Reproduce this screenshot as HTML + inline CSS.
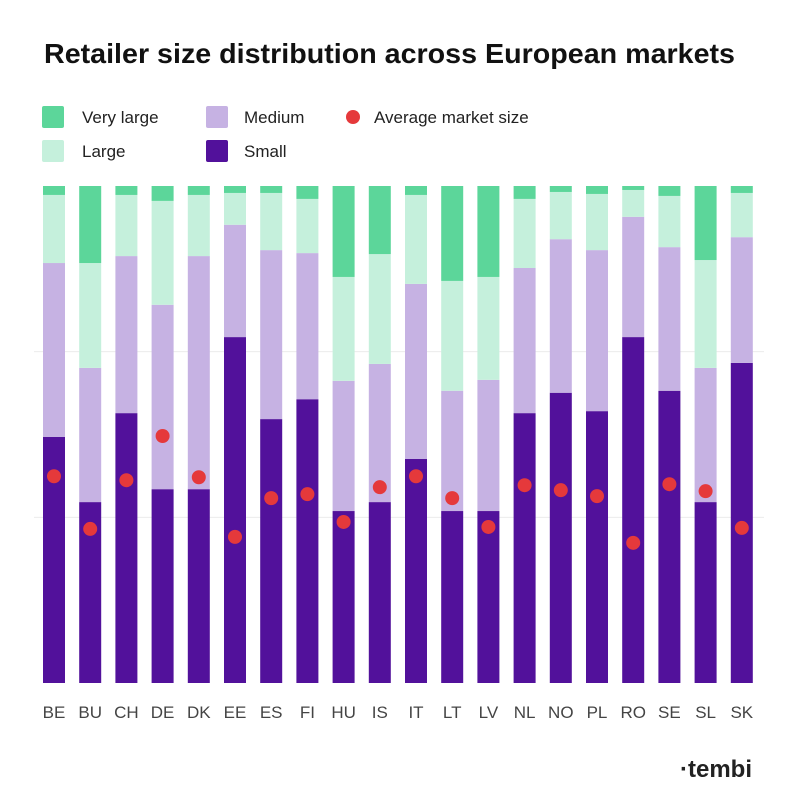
<!DOCTYPE html>
<html><head><meta charset="utf-8"><style>
body{margin:0;background:#fff;font-family:"Liberation Sans",sans-serif;}
#wrap{position:relative;width:800px;height:800px;overflow:hidden;}
</style></head><body>
<div id="wrap">
<svg id="svg" width="800" height="800" xmlns="http://www.w3.org/2000/svg">
<text x="44" y="63" font-size="28" font-weight="bold" fill="#111" textLength="691" lengthAdjust="spacingAndGlyphs">Retailer size distribution across European markets</text>
<g>
<rect x="42" y="106" width="22" height="22" rx="2" fill="#5cd69a"/>
<text x="82" y="123" font-size="17" fill="#222">Very large</text>
<rect x="42" y="140" width="22" height="22" rx="2" fill="#c5f0dc"/>
<text x="82" y="157" font-size="17" fill="#222">Large</text>
<rect x="206" y="106" width="22" height="22" rx="2" fill="#c6b2e3"/>
<text x="244" y="123" font-size="17" fill="#222">Medium</text>
<rect x="206" y="140" width="22" height="22" rx="2" fill="#52119b"/>
<text x="244" y="157" font-size="17" fill="#222">Small</text>
<circle cx="353" cy="117" r="7" fill="#e5393b"/>
<text x="374" y="123" font-size="17" fill="#222">Average market size</text>
</g>
<g id="grid"></g><g id="bars"></g><g id="dots"></g><g id="labels"></g>
<text x="752" y="777" font-size="24" font-weight="bold" fill="#222" text-anchor="end">·tembi</text>
</svg>
</div>
<script>
const categories=["BE","BU","CH","DE","DK","EE","ES","FI","HU","IS","IT","LT","LV","NL","NO","PL","RO","SE","SL","SK"];
const small=[49.5,36.4,54.3,39.0,39.0,69.6,53.1,57.1,34.6,36.4,45.1,34.6,34.6,54.3,58.4,54.7,69.6,58.8,36.4,64.4];
const medium=[35.0,27.0,31.6,37.1,46.9,22.6,34.0,29.4,26.2,27.8,35.2,24.2,26.4,29.2,30.9,32.4,24.2,28.9,27.0,25.3];
const large=[13.7,21.1,12.3,20.9,12.3,6.4,11.5,10.9,20.9,22.1,17.9,22.1,20.7,13.9,9.5,11.3,5.4,10.3,21.7,8.9];
const veryLarge=[1.8,15.5,1.8,3.0,1.8,1.4,1.4,2.6,18.3,13.7,1.8,19.1,18.3,2.6,1.2,1.6,0.8,2.0,14.9,1.4];
const average=[41.6,31.0,40.8,49.7,41.4,29.4,37.2,38.0,32.4,39.4,41.6,37.2,31.4,39.8,38.8,37.6,28.2,40.0,38.6,31.2];
const gridVals=[33.333,66.667];
const NS="http://www.w3.org/2000/svg";
const y0=683,y1=186,x0=54,step=36.2,bw=22;
const yS=v=>y0-(v/100)*(y0-y1);
const xS=i=>x0+i*step;
function mk(t,a){const e=document.createElementNS(NS,t);for(const k in a)e.setAttribute(k,a[k]);return e;}
const grid=document.getElementById('grid'),bars=document.getElementById('bars'),dots=document.getElementById('dots'),labels=document.getElementById('labels');
gridVals.forEach(v=>{const l=mk('line',{x1:34,x2:764,y1:yS(v),y2:yS(v),stroke:'#ececec','stroke-width':1});


grid.appendChild(l);});
const series=[[small,'#52119b','small'],[medium,'#c6b2e3','medium'],[large,'#c5f0dc','large'],[veryLarge,'#5cd69a','very-large']];
categories.forEach((c,i)=>{
  let cum=0;
  series.forEach(([arr,col,nm])=>{
    const a=cum,b=cum+arr[i];cum=b;
    const r=mk('rect',{x:xS(i)-bw/2,y:yS(b),width:bw,height:yS(a)-yS(b),fill:col});
    
    
    bars.appendChild(r);
  });
  const d=mk('circle',{cx:xS(i),cy:yS(average[i]),r:7,fill:'#e5393b'});
  
  
  dots.appendChild(d);
  const t=mk('text',{x:xS(i),y:718,'font-size':17,fill:'#444','text-anchor':'middle'});
  t.textContent=c;
  
  
  labels.appendChild(t);
});
</script>
</body></html>
